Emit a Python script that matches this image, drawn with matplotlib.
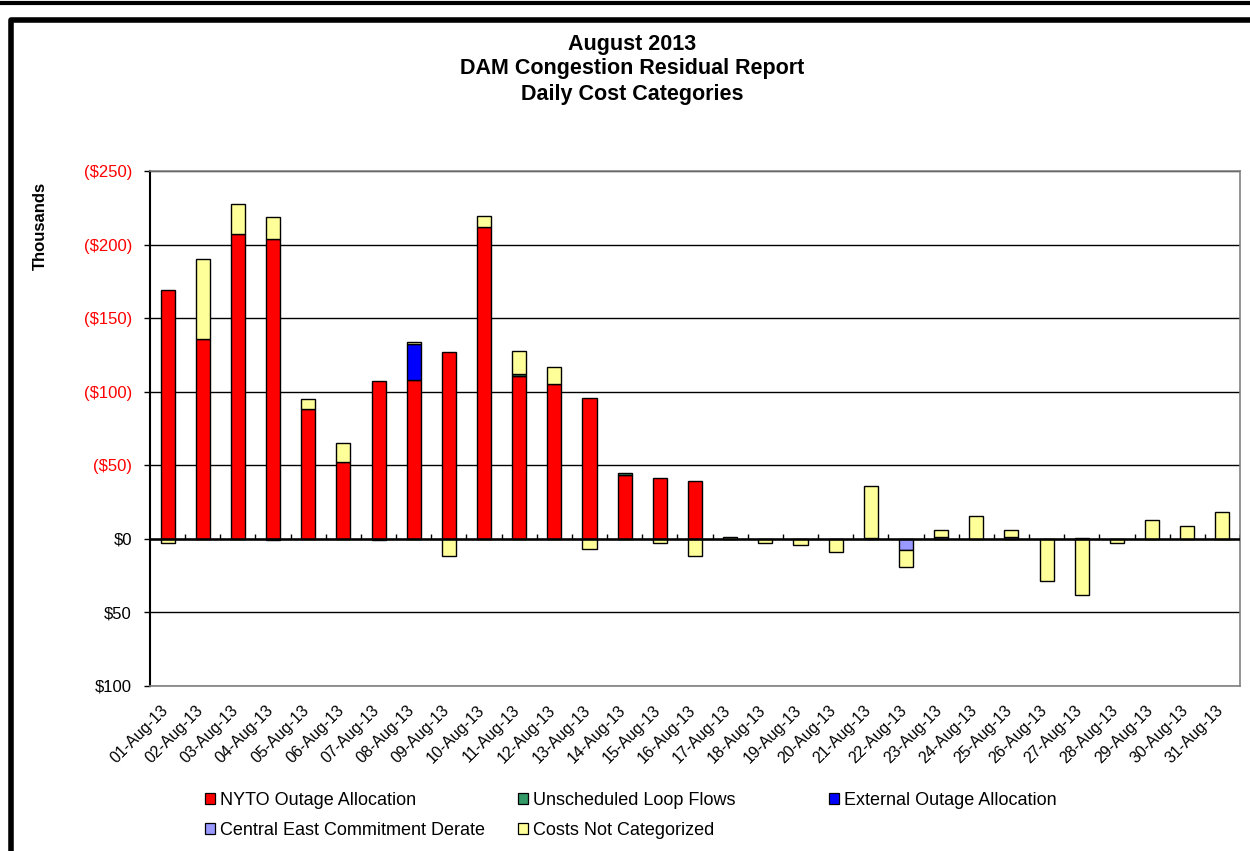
import matplotlib.pyplot as plt
import numpy as np
from matplotlib.patches import Rectangle
from matplotlib.lines import Line2D
from matplotlib.transforms import ScaledTranslation

plt.rcParams['font.family'] = ['Liberation Sans', 'DejaVu Sans']

days = ["%02d-Aug-13" % d for d in range(1, 32)]

# thousands of dollars; negative = cost (drawn upward, shown as ($x))
nyto = [-169, -136, -207, -204, -88, -52, -107, -108, -127, -212, -110.5, -105,
        -96, -43.5, -41.5, -39, 0, 0, 0, 0, -0.6, 0, 0, 0, 0, 0, -0.6, 0, 0, 0, 0]
loop_flows = [0, 0, 0, 1, 0, 0, 1, 0, 0, 0, -1.5, 0, 0, -1, 0, 0,
              0, 0, 0, 0, 0, 0, 0, 0, 0, 0, 0, 0, 0, 0, 0]
external = [0, 0, 0, 0, 0, 0, 0, -24.5, 0, 0, 0, 0, 0, 0, 0, 0,
            0, 0, 0, 0, 0, 0, 0, 0, 0, 0, 0, 0, 0, 0, 0]
central_east = [0, 0, 0, 0, 0, 0, 0, 0, 0, 0, 0, 0, 0, 0, 0, 0,
                0, 0, 0, 0, 0, 7.5, -1.3, 0, -1.3, 0, 0, 0, 0, 0, 0]
not_categorized = [3, -54, -20.5, -15, -7, -13, 0, -1, 12, -7.5, -15.5, -11.5,
                   7, 0, 3, 12, -1.5, 2.5, 4.5, 9, -35, 11.5, -5, -15.5, -5,
                   28.5, 38.5, 3, -13, -9, -18.5]

series = [
    (nyto, "NYTO Outage Allocation", "#FF0000"),
    (loop_flows, "Unscheduled Loop Flows", "#339966"),
    (external, "External Outage Allocation", "#0000FF"),
    (central_east, "Central East Commitment Derate", "#9999FF"),
    (not_categorized, "Costs Not Categorized", "#FFFF99"),
]

fig = plt.figure(figsize=(12.5, 8.51), dpi=100)
ax = fig.add_axes([0.12, 0.1939, 0.872, 0.6052])

x = np.arange(len(days))
pos = np.zeros(len(days))
neg = np.zeros(len(days))
handles = {}
for vals, label, color in series:
    v = np.array(vals, float)
    bottom = np.where(v >= 0, pos, neg)
    m = v != 0
    ax.bar(x[m], v[m], 0.4, bottom=bottom[m], color=color,
           edgecolor="black", linewidth=1.0, zorder=3)
    handles[label] = Rectangle((0, 0), 1, 1, facecolor=color,
                               edgecolor="black", linewidth=0.9)
    pos += np.clip(v, 0, None)
    neg += np.clip(v, None, 0)

ax.set_xlim(-0.5, len(days) - 0.5)
ax.set_ylim(100, -250)
yt = np.arange(-250, 101, 50)
ax.set_yticks(yt)
labels = []
for t in yt:
    if t < 0:
        labels.append("($%d)" % -t)
    else:
        labels.append("$%d" % t)
ax.set_yticklabels(labels, fontsize=12)
for lab, t in zip(ax.get_yticklabels(), yt):
    lab.set_color("red" if t < 0 else "black")
ax.tick_params(axis="y", length=4, width=1, pad=9)
ax.yaxis.grid(True, color="black", linewidth=1, zorder=0)
ax.set_axisbelow(True)

ax.set_xticks(x)
ax.set_xticklabels(days, rotation=45, ha="right", va="top",
                   rotation_mode="anchor", fontsize=11.5)
ax.tick_params(axis="x", length=0, pad=12)
shift = ScaledTranslation(-0.07, 0, fig.dpi_scale_trans)
for lab in ax.get_xticklabels():
    lab.set_transform(lab.get_transform() + shift)

# zero line with category ticks
ax.axhline(0, color="black", linewidth=1.8, zorder=4)
ax.vlines(np.arange(len(days)) + 0.5, -3, 0, color="black", linewidth=1, zorder=4)

for s in ["top", "right", "bottom"]:
    ax.spines[s].set_color("#808080")
    ax.spines[s].set_linewidth(1.2)
ax.spines["left"].set_color("black")
ax.spines["left"].set_linewidth(1.5)

fig.text(0.032, 0.734, "Thousands", rotation=90, fontsize=12,
         fontweight="bold", ha="center", va="center")
for txt, yy in [("August 2013", 0.9475), ("DAM Congestion Residual Report", 0.920),
                ("Daily Cost Categories", 0.8895)]:
    fig.text(0.5056, yy, txt, ha="center", va="center", fontsize=15.5,
             fontweight="bold")

columns = [
    (["NYTO Outage Allocation", "Central East Commitment Derate"], 205),
    (["Unscheduled Loop Flows", "Costs Not Categorized"], 518),
    (["External Outage Allocation"], 829),
]
for keys, xpx in columns:
    fig.legend([handles[k] for k in keys], keys, loc="upper left",
               bbox_to_anchor=(xpx / 1250, 1 - 792 / 851), frameon=False,
               fontsize=13, handlelength=0.55, handleheight=0.55,
               handletextpad=0.3, labelspacing=0.72, borderpad=0,
               borderaxespad=0)

# chart frame
fig.add_artist(Line2D([0, 1], [0.997, 0.997], transform=fig.transFigure,
                      color="black", linewidth=3))
fig.add_artist(Line2D([0.009, 0.009, 1.0], [0.0, 0.977, 0.977],
                      transform=fig.transFigure, color="black", linewidth=4))

fig.savefig("out.png", dpi=100)
